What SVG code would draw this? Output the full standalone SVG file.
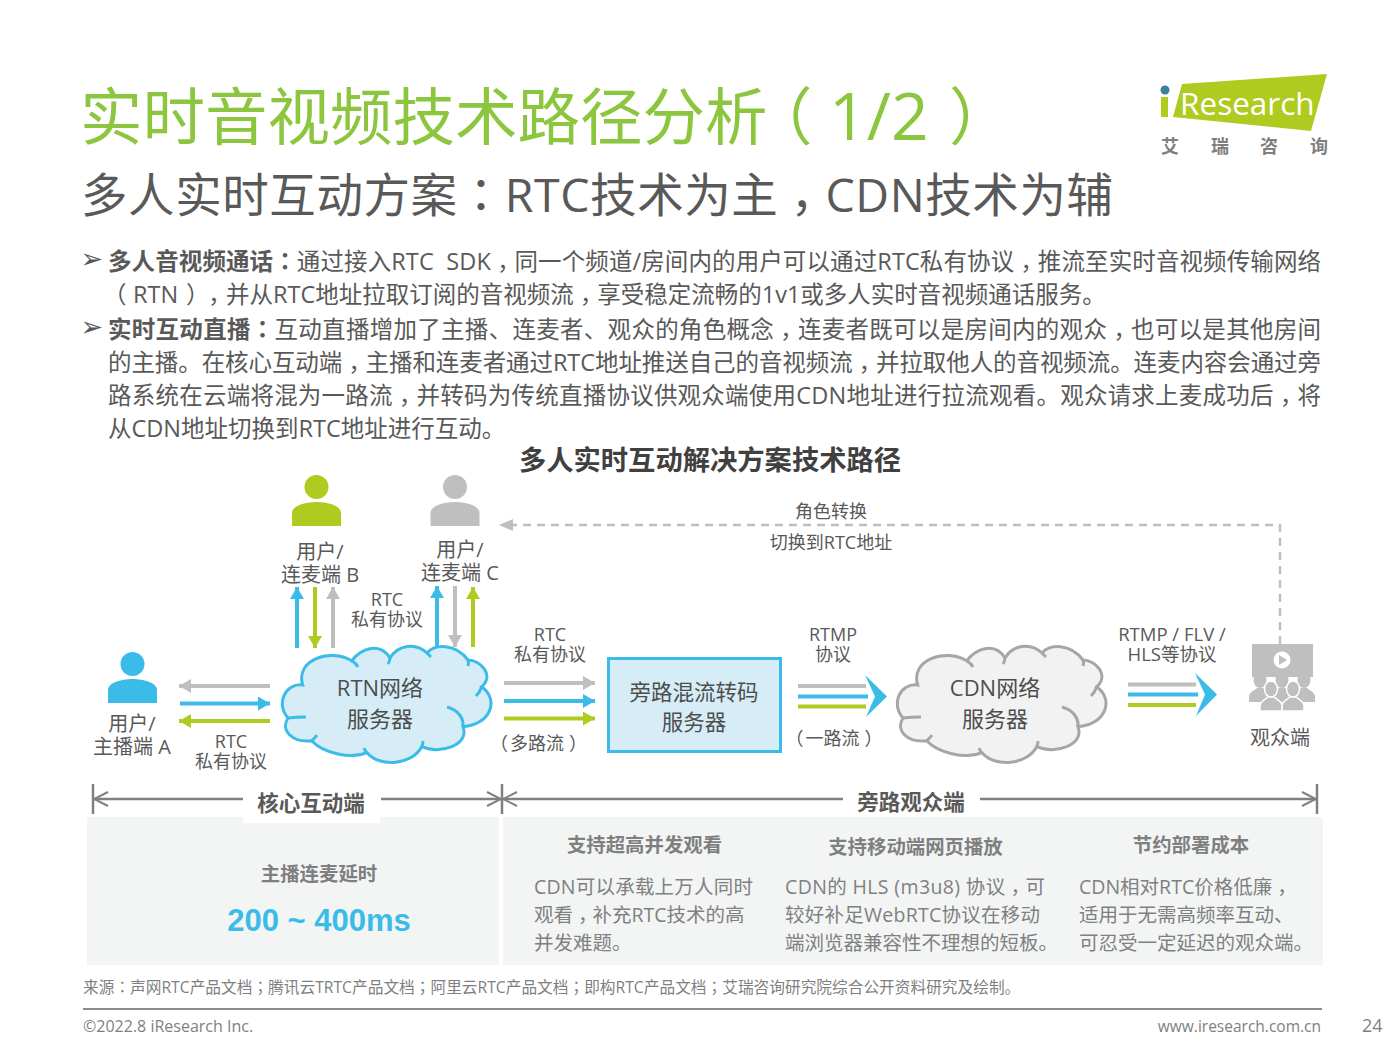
<svg xmlns="http://www.w3.org/2000/svg" width="1400" height="1050" viewBox="0 0 1400 1050">
<style>
text{font-family:"Open Sans","Noto Sans CJK SC","Noto Sans",sans-serif;fill:#595959}
.p{font-family:"Noto Sans CJK TC","Noto Sans CJK SC",sans-serif}
.c{text-anchor:middle}
.b{font-weight:700}
.body{font-size:23.5px}
.lab{font-size:18px}
.lab2{font-size:20px}
.node{font-size:22px;fill:#4d4d4d}
.desc{font-size:19.5px;fill:#808080}
.hd{font-size:19.400px;font-weight:700;fill:#7f7f7f}
.gl{stroke:#bfbfbf;stroke-width:4;fill:none}
.bl{stroke:#3bbce8;stroke-width:4;fill:none}
.gr{stroke:#afcb1f;stroke-width:4;fill:none}
.dim{stroke:#808080;stroke-width:2.500;fill:none}
.bu{font-family:"DejaVu Sans",sans-serif;font-size:27px;fill:#595959}
</style>
<defs>
<marker id="mg" markerUnits="userSpaceOnUse" markerWidth="13" markerHeight="14" refX="12" refY="7" orient="auto"><path d="M0 0L12 7L0 14Z" fill="#bfbfbf"/></marker>
<marker id="mb" markerUnits="userSpaceOnUse" markerWidth="13" markerHeight="14" refX="12" refY="7" orient="auto"><path d="M0 0L12 7L0 14Z" fill="#3bbce8"/></marker>
<marker id="mv" markerUnits="userSpaceOnUse" markerWidth="13" markerHeight="14" refX="12" refY="7" orient="auto"><path d="M0 0L12 7L0 14Z" fill="#afcb1f"/></marker>
<marker id="md" markerUnits="userSpaceOnUse" markerWidth="16" markerHeight="16" refX="15" refY="8" orient="auto"><path d="M1 1L15 8L1 15" fill="none" stroke="#808080" stroke-width="2"/></marker>
<path id="cloudFill" d="M302.700 685C284 683 276 705 288 718C280 730 292 743 311.700 740.700C322 752 350 760 367 752.700C380 768 412 765 421.700 746.700C440 755 470 745 463 726.700C490 725 500 700 481.700 686.700C495 675 480 660 468 660C455 643 435 644 427 653C415 642 398 645 390 658C380 642 362 648 351.700 660.700C330 648 295 660 302.700 685Z"/>
<path id="cloudCurl" d="M288 718Q296 717 306 717M447 707C458 710 464 718 463 727M481.700 686.700Q480 692 476 696M468 660Q469 663 468 666M427 653Q429 655 431 657M390 658Q390 661 388 664M351.700 660.700Q356 663 358 667M421.700 746.700Q423 744 423 741M367 752.700Q365 751 364 748M311.700 740.700Q315 738 317 735"/>
<g id="person"><circle cx="0" cy="-15" r="12"/><path d="M-24.500 24V11C-24.500 4 -12 0 0 0C12 0 24.500 4 24.500 11V24Z"/></g>
<g id="viewer"><ellipse cx="0" cy="-5" rx="6.500" ry="8"/><path d="M-11 17V12C-11 7 -6 6 -3 3H3C6 6 11 7 11 12V17Z"/></g>
</defs>
<rect width="1400" height="1050" fill="#fff"/>

<g id="header">
<text y="140" font-size="62.500" style="fill:#8cc63f"><tspan x="80">实时音视频技术路径分析</tspan><tspan x="750">（</tspan><tspan x="829" font-size="66">1/2</tspan><tspan x="949">）</tspan></text>
<text x="81" y="212" font-size="46.500" textLength="1032">多人实时互动方案<tspan class="p">：</tspan>RTC技术为主<tspan class="p" dy="13">，</tspan><tspan dy="-13">CDN技术为辅</tspan></text>
</g>

<g id="logo">
<polygon points="1182,84 1327,74 1311,131 1173,117" fill="#afcb1f"/>
<circle cx="1165" cy="90" r="4.500" fill="#3f7f9f"/>
<rect x="1161" y="97" width="7" height="20" fill="#afcb1f"/>
<text x="1180" y="115" font-size="31.500" style="fill:#fff">Research</text>
<text x="1170" y="153" font-size="18" class="c b" style="fill:#7f7f7f">艾</text>
<text x="1220" y="153" font-size="18" class="c b" style="fill:#7f7f7f">瑞</text>
<text x="1269" y="153" font-size="18" class="c b" style="fill:#7f7f7f">咨</text>
<text x="1319" y="153" font-size="18" class="c b" style="fill:#7f7f7f">询</text>
</g>

<g id="bullets">
<text x="80.500" y="268" class="bu">➢</text>
<text x="80.500" y="336" class="bu">➢</text>
<text x="108" y="270" class="body" textLength="1213"><tspan class="b">多人音视频通话</tspan><tspan class="p b">：</tspan>通过接入RTC&#160;&#160;SDK<tspan class="p" dy="6.500">，</tspan><tspan dy="-6.500">同一个频道/房间内的用户可以通过RTC私有协议</tspan><tspan class="p" dy="6.500">，</tspan><tspan dy="-6.500">推流至实时音视频传输网络</tspan></text>
<text y="303" class="body"><tspan x="103">（</tspan><tspan x="133">RTN</tspan><tspan x="186">）</tspan><tspan class="p" x="202" dy="6.500">，</tspan><tspan x="226" dy="-6.500">并从RTC地址拉取订阅的音视频流</tspan><tspan class="p" dy="6.500">，</tspan><tspan dy="-6.500">享受稳定流畅的1v1或多人实时音视频通话服务。</tspan></text>
<text x="108" y="338" class="body" textLength="1213"><tspan class="b">实时互动直播</tspan><tspan class="p b">：</tspan>互动直播增加了主播、连麦者、观众的角色概念<tspan class="p" dy="6.500">，</tspan><tspan dy="-6.500">连麦者既可以是房间内的观众</tspan><tspan class="p" dy="6.500">，</tspan><tspan dy="-6.500">也可以是其他房间</tspan></text>
<text x="108" y="371" class="body" textLength="1213">的主播。在核心互动端<tspan class="p" dy="6.500">，</tspan><tspan dy="-6.500">主播和连麦者通过RTC地址推送自己的音视频流</tspan><tspan class="p" dy="6.500">，</tspan><tspan dy="-6.500">并拉取他人的音视频流。连麦内容会通过旁</tspan></text>
<text x="108" y="404" class="body" textLength="1213">路系统在云端将混为一路流<tspan class="p" dy="6.500">，</tspan><tspan dy="-6.500">并转码为传统直播协议供观众端使用CDN地址进行拉流观看。观众请求上麦成功后</tspan><tspan class="p" dy="6.500">，</tspan><tspan dy="-6.500">将</tspan></text>
<text x="108" y="437" class="body">从CDN地址切换到RTC地址进行互动。</text>
</g>

<text id="diagram-title" x="710" y="470" font-size="27.300" class="c b" style="fill:#404040">多人实时互动解决方案技术路径</text>

<g id="connectors">
<line x1="270" y1="686" x2="179" y2="686" class="gl" marker-end="url(#mg)"/>
<line x1="180" y1="703.500" x2="270" y2="703.500" class="bl" marker-end="url(#mb)"/>
<line x1="270" y1="721" x2="179" y2="721" class="gr" marker-end="url(#mv)"/>
<line x1="297" y1="648" x2="297" y2="587" class="bl" marker-end="url(#mb)"/>
<line x1="315" y1="587" x2="315" y2="648" class="gr" marker-end="url(#mv)"/>
<line x1="333" y1="648" x2="333" y2="587" class="gl" marker-end="url(#mg)"/>
<line x1="437" y1="648" x2="437" y2="586" class="bl" marker-end="url(#mb)"/>
<line x1="455" y1="586" x2="455" y2="647" class="gl" marker-end="url(#mg)"/>
<line x1="473" y1="647" x2="473" y2="587" class="gr" marker-end="url(#mv)"/>
<line x1="504" y1="683" x2="595" y2="683" class="gl" marker-end="url(#mg)"/>
<line x1="504" y1="701" x2="595" y2="701" class="bl" marker-end="url(#mb)"/>
<line x1="504" y1="718.500" x2="595" y2="718.500" class="gr" marker-end="url(#mv)"/>
<line x1="798" y1="686" x2="866" y2="686" class="gl"/>
<line x1="798" y1="696.500" x2="868" y2="696.500" class="bl"/>
<line x1="798" y1="706.500" x2="866" y2="706.500" class="gr"/>
<polygon points="865,675 887,696.500 866,717 875,696.500" fill="#3bbce8"/>
<line x1="1128" y1="684.500" x2="1196" y2="684.500" class="gl"/>
<line x1="1128" y1="694.500" x2="1198" y2="694.500" class="bl"/>
<line x1="1128" y1="705" x2="1196" y2="705" class="gr"/>
<polygon points="1195,673 1217,694.500 1196,716 1205,694.500" fill="#3bbce8"/>
<path d="M1280 644V525H513" fill="none" stroke="#bfbfbf" stroke-width="2.500" stroke-dasharray="8 6"/>
<path d="M499 525L513 519V531Z" fill="#bfbfbf"/>
<text x="831" y="518" class="lab c">角色转换</text>
<text x="831" y="549" class="lab c">切换到RTC地址</text>
<text y="748" class="lab c"><tspan x="231">RTC</tspan><tspan x="231" dy="20">私有协议</tspan></text>
<text y="606" class="lab c"><tspan x="387">RTC</tspan><tspan x="387" dy="20">私有协议</tspan></text>
<text y="641" class="lab c"><tspan x="550">RTC</tspan><tspan x="550" dy="20">私有协议</tspan></text>
<text x="538.500" y="750" class="lab c">（<tspan dx="2">多路流</tspan><tspan dx="5">）</tspan></text>
<text y="641" class="lab c"><tspan x="833">RTMP</tspan><tspan x="833" dy="20">协议</tspan></text>
<text x="834" y="745" class="lab c">（<tspan dx="2">一路流</tspan><tspan dx="5">）</tspan></text>
<text y="641" class="lab c" style="font-size:18.500px"><tspan x="1172">RTMP / FLV /</tspan><tspan x="1172" dy="20">HLS等协议</tspan></text>
</g>

<g id="user-a" fill="#3bbce8"><use href="#person" x="132.500" y="679"/>
<text y="731" class="lab2 c"><tspan x="132">用户/</tspan><tspan x="132" dy="23">主播端 A</tspan></text></g>
<g id="user-b" fill="#afcb1f"><use href="#person" x="316.500" y="502"/>
<text y="559" class="lab2 c"><tspan x="320">用户/</tspan><tspan x="320" dy="23">连麦端 B</tspan></text></g>
<g id="user-c" fill="#bfbfbf"><use href="#person" x="455" y="502"/>
<text y="557" class="lab2 c"><tspan x="460">用户/</tspan><tspan x="460" dy="23">连麦端 C</tspan></text></g>

<g id="rtn-cloud">
<use href="#cloudFill" fill="#d6edf7" stroke="#3bbce8" stroke-width="3"/>
<use href="#cloudCurl" fill="none" stroke="#3bbce8" stroke-width="3"/>
<text y="696" class="node c"><tspan x="380">RTN网络</tspan><tspan x="380" dy="31">服务器</tspan></text>
</g>

<g id="mixer">
<rect x="608.500" y="658.500" width="172" height="93" fill="#d6edf7" stroke="#3bbce8" stroke-width="3"/>
<text y="700" class="node c" style="font-size:21.500px"><tspan x="694">旁路混流转码</tspan><tspan x="694" dy="30">服务器</tspan></text>
</g>

<g id="cdn-cloud">
<use href="#cloudFill" x="615" fill="#f2f2f2" stroke="#a6a6a6" stroke-width="3"/>
<use href="#cloudCurl" x="615" fill="none" stroke="#a6a6a6" stroke-width="3"/>
<text y="696" class="node c"><tspan x="995">CDN网络</tspan><tspan x="995" dy="31">服务器</tspan></text>
</g>

<g id="audience" fill="#bfbfbf">
<rect x="1252" y="644" width="61" height="33"/>
<circle cx="1282" cy="660" r="8.500" fill="#fff"/>
<path d="M1279 655L1287 660L1279 665Z"/>
<use href="#viewer" x="1260" y="685"/><use href="#viewer" x="1304" y="685"/><use href="#viewer" x="1282" y="685"/>
<g stroke="#fff" stroke-width="1.500"><use href="#viewer" x="1271" y="694"/><use href="#viewer" x="1293" y="694"/></g>
<text x="1280" y="745" class="lab2 c">观众端</text>
</g>

<g id="panels">
<rect x="87" y="817" width="412" height="148" fill="#f3f5f5"/>
<rect x="503" y="817" width="820" height="148" fill="#f3f5f5"/>
<rect x="243" y="790" width="137" height="33" fill="#fff"/>
<line x1="93" y1="784" x2="93" y2="814" class="dim"/>
<line x1="502" y1="784" x2="502" y2="814" class="dim"/>
<line x1="1317" y1="784" x2="1317" y2="814" class="dim"/>
<line x1="243" y1="799" x2="94" y2="799" class="dim" marker-end="url(#md)"/>
<line x1="381" y1="799" x2="501" y2="799" class="dim" marker-end="url(#md)"/>
<line x1="843" y1="799" x2="503" y2="799" class="dim" marker-end="url(#md)"/>
<line x1="980" y1="799" x2="1316" y2="799" class="dim" marker-end="url(#md)"/>
<text x="311" y="811" font-size="21.500" class="c b">核心互动端</text>
<text x="911" y="810" font-size="21.500" class="c b">旁路观众端</text>
<text x="319" y="881" class="hd c">主播连麦延时</text>
<text x="319" y="931" font-size="31" class="c b" style="fill:#3bbce8;font-family:'Liberation Sans',sans-serif">200 ~ 400ms</text>
<text x="644.500" y="852" class="hd c">支持超高并发观看</text>
<text x="915.500" y="854" class="hd c">支持移动端网页播放</text>
<text x="1191" y="852" class="hd c">节约部署成本</text>
<text x="534" y="894" class="desc" textLength="219">CDN可以承载上万人同时</text>
<text x="534" y="922" class="desc">观看<tspan class="p" dy="5.500">，</tspan><tspan dy="-5.500">补充RTC技术的高</tspan></text>
<text x="534" y="950" class="desc">并发难题。</text>
<text x="785" y="894" class="desc" textLength="260">CDN的 HLS (m3u8) 协议<tspan class="p" dy="5.500">，</tspan><tspan dy="-5.500">可</tspan></text>
<text x="785" y="922" class="desc" textLength="255">较好补足WebRTC协议在移动</text>
<text x="785" y="950" class="desc">端浏览器兼容性不理想的短板。</text>
<text x="1079" y="894" class="desc">CDN相对RTC价格低廉<tspan class="p" dy="5.500">，</tspan></text>
<text x="1079" y="922" class="desc">适用于无需高频率互动、</text>
<text x="1079" y="950" class="desc">可忍受一定延迟的观众端。</text>
</g>

<g id="footer">
<text x="83" y="993" font-size="15.700" style="fill:#7f7f7f">来源<tspan class="p">：</tspan>声网RTC产品文档<tspan class="p">；</tspan>腾讯云TRTC产品文档<tspan class="p">；</tspan>阿里云RTC产品文档<tspan class="p">；</tspan>即构RTC产品文档<tspan class="p">；</tspan>艾瑞咨询研究院综合公开资料研究及绘制。</text>
<line x1="83" y1="1009" x2="1322" y2="1009" stroke="#8c8c8c" stroke-width="2"/>
<text x="83" y="1032" font-size="16" style="fill:#7f7f7f">©2022.8 iResearch Inc.</text>
<text x="1321" y="1032" font-size="15.500" style="fill:#7f7f7f;text-anchor:end">www.iresearch.com.cn</text>
<text x="1362" y="1032" font-size="18" style="fill:#7f7f7f">24</text>
</g>
</svg>
